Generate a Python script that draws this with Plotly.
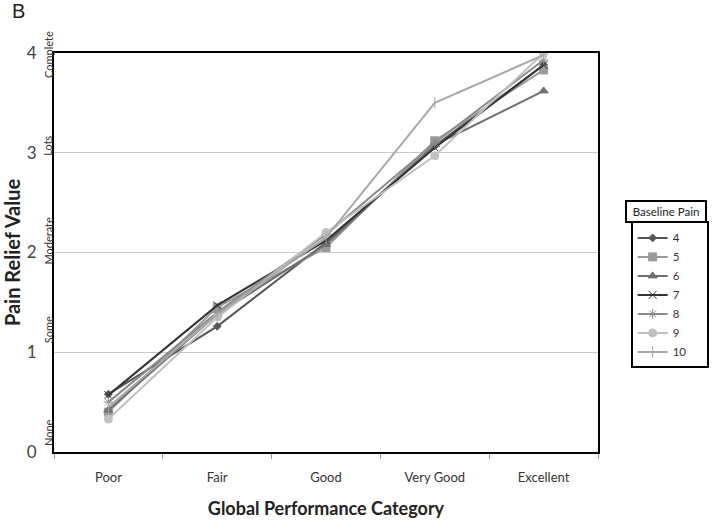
import plotly.graph_objects as go

categories = ["Poor", "Fair", "Good", "Very Good", "Excellent"]
series_names = ["4", "5", "6", "7", "8", "9", "10"]
pain4 = [0.58, 1.26, 2.10, 3.07, 3.88]
pain5 = [0.40, 1.45, 2.05, 3.12, 3.83]
pain6 = [0.42, 1.38, 2.08, 3.08, 3.62]
pain7 = [0.57, 1.47, 2.12, 3.05, 3.88]
pain8 = [0.50, 1.40, 2.18, 3.10, 3.93]
pain9 = [0.33, 1.35, 2.20, 2.97, 4.00]
pain10 = [0.45, 1.38, 2.15, 3.50, 3.98]
relief_labels = ["None", "Some", "Moderate", "Lots", "Complete"]
relief_values = [0, 1, 2, 3, 4]

series_values = [pain4, pain5, pain6, pain7, pain8, pain9, pain10]
colors = ["#555555", "#9a9a9a", "#707070", "#333333", "#8a8a8a", "#c0c0c0", "#a8a8a8"]
symbols = ["diamond", "square", "triangle-up", "x-thin-open", "asterisk-open", "circle", "line-ns-open"]
msizes = [6, 8, 8, 8, 8, 8, 8]
label_shifts = [19, 22, 11, 7, -2]

fig = go.Figure()
for name, vals, c, s, ms in zip(series_names, series_values, colors, symbols, msizes):
    fig.add_trace(go.Scatter(
        x=categories, y=vals, name=name + "\u00a0" * 5, mode="lines+markers",
        line=dict(color=c, width=2),
        marker=dict(symbol=s, size=ms, color=c, line=dict(color=c, width=1)),
    ))

for lab, v, sh in zip(relief_labels, relief_values, label_shifts):
    fig.add_annotation(
        x=0, xref="paper", xshift=-6, y=v, yref="y", yshift=sh, text=lab, textangle=-90,
        showarrow=False, yanchor="middle", xanchor="center",
        font=dict(family="Lato", size=11, color="#333333"),
    )

fig.add_annotation(
    x=1.125, y=0.604, xref="paper", yref="paper", text="Baseline Pain",
    showarrow=False, xanchor="center", yanchor="middle",
    font=dict(family="Lato", size=11.5, color="#222222"),
    bordercolor="black", borderwidth=2, borderpad=3, width=72, bgcolor="white",
)

fig.add_annotation(
    x=-0.08, y=1.105, xref="paper", yref="paper", text="B", showarrow=False,
    xanchor="left", yanchor="middle",
    font=dict(family="Liberation Sans", size=20, color="#222222"),
)

fig.update_layout(
    width=714, height=521,
    margin=dict(l=54, r=116, t=53, b=69, autoexpand=False),
    plot_bgcolor="white", paper_bgcolor="white",
    font=dict(family="Lato", color="#333333"),
    showlegend=True,
    legend=dict(
        x=1.06, y=0.578, xanchor="left", yanchor="top",
        bordercolor="black", borderwidth=2, bgcolor="white",
        font=dict(family="Lato", size=11.5, color="#333333"),
        itemwidth=30, tracegroupgap=0,
    ),
    xaxis=dict(
        type="category", range=[-0.5, 4.5], automargin=False,
        showline=True, linecolor="black", linewidth=2, mirror=True,
        ticks="outside", tickson="boundaries", ticklen=5, tickcolor="#999999",
        showgrid=False, ticklabelstandoff=12,
        tickfont=dict(family="Lato", size=13, color="#333333"),
        title=dict(text="<b>Global Performance Category</b>", standoff=19,
                   font=dict(family="Lato", size=18, color="#222222")),
    ),
    yaxis=dict(
        range=[0, 4], tickvals=[0, 1, 2, 3, 4], automargin=False,
        showline=True, linecolor="black", linewidth=2, mirror=True,
        showgrid=True, gridcolor="#c8c8c8", gridwidth=1,
        zeroline=False, ticks="", ticklabelstandoff=12,
        tickfont=dict(family="Lato", size=17, color="#444444"),
        title=dict(text="<b>Pain Relief Value</b>", standoff=8,
                   font=dict(family="Lato", size=20, color="#222222")),
    ),
)

fig.write_html("out.html", config={"displayModeBar": False},
               post_script="document.body.style.margin='0';")
